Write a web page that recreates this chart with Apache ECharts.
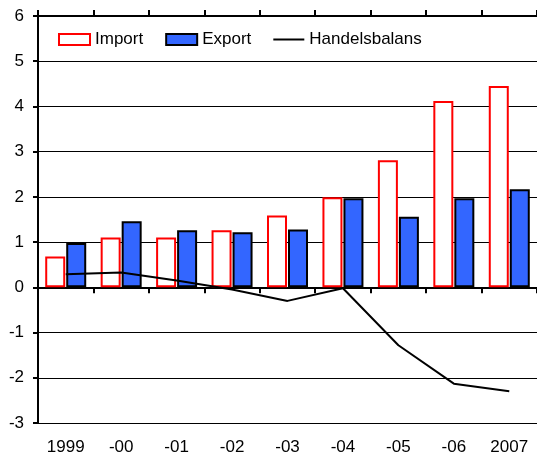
<!DOCTYPE html>
<html>
<head>
<meta charset="utf-8">
<script src="https://cdn.jsdelivr.net/npm/echarts@6/dist/echarts.min.js"></script>
<style>
  html, body { margin: 0; padding: 0; background: #fff; }
  #chart { width: 537px; height: 456px; }
</style>
</head>
<body>
<div id="chart"></div>
<script>
const years = ['1999', '-00', '-01', '-02', '-03', '-04', '-05', '-06', '2007']
const importData = [0.68, 1.1, 1.1, 1.26, 1.59, 1.99, 2.81, 4.12, 4.45]
const exportData = [0.98, 1.46, 1.26, 1.22, 1.28, 1.97, 1.56, 1.97, 2.17]
const balansData = [0.29, 0.33, 0.15, -0.05, -0.3, -0.02, -1.28, -2.13, -2.3]

const font = '"Liberation Sans", Arial, sans-serif'
const chart = echarts.init(document.getElementById('chart'))

chart.setOption({
  animation: false,
  textStyle: { fontFamily: font },
  grid: { left: 38, right: 0, top: 16, bottom: 33 },
  legend: {
    left: 53,
    top: 26,
    itemWidth: 31,
    itemHeight: 11,
    itemGap: 22,
    textStyle: { fontSize: 17, color: '#000', fontFamily: font },
    data: [
      { name: 'Import', icon: 'rect' },
      { name: 'Export', icon: 'rect' },
      { name: 'Handelsbalans', icon: 'path://M0,0 L31,0 L31,2 L0,2 Z' }
    ]
  },
  xAxis: [
    {
      type: 'category',
      data: years,
      position: 'bottom',
      axisLine: { show: false, onZero: false },
      axisTick: { show: false },
      axisLabel: { color: '#000', fontSize: 17, margin: 16, fontFamily: font }
    },
    {
      type: 'category',
      data: years,
      position: 'top',
      axisLine: { show: true, onZero: true, lineStyle: { color: '#000', width: 2 } },
      axisTick: { show: true, inside: true, length: 6, lineStyle: { color: '#000', width: 2 } },
      axisLabel: { show: false }
    },
    {
      type: 'category',
      data: years,
      position: 'top',
      axisLine: { show: true, onZero: true, lineStyle: { color: '#000', width: 2 } },
      axisTick: { show: true, inside: false, length: 6, lineStyle: { color: '#000', width: 2 } },
      axisLabel: { show: false }
    }
  ],
  yAxis: {
    type: 'value',
    min: -3,
    max: 6,
    interval: 1,
    axisLine: { show: true, lineStyle: { color: '#000', width: 2 } },
    axisTick: { show: true, length: 5, lineStyle: { color: '#000', width: 2 } },
    axisLabel: { color: '#000', fontSize: 17, margin: 14, fontFamily: font },
    splitLine: { show: true, lineStyle: { color: '#000', width: 1 } }
  },
  series: [
    {
      name: 'Import',
      type: 'bar',
      barWidth: 20,
      barGap: '5%',
      data: importData,
      itemStyle: { color: '#fff', borderColor: '#ff0000', borderWidth: 2 }
    },
    {
      name: 'Export',
      type: 'bar',
      barWidth: 20,
      barGap: '5%',
      data: exportData,
      itemStyle: { color: '#3366ff', borderColor: '#000', borderWidth: 2 }
    },
    {
      name: 'Handelsbalans',
      type: 'line',
      data: balansData,
      symbol: 'none',
      z: 5,
      lineStyle: { color: '#000', width: 2 },
      itemStyle: { color: '#000' }
    }
  ]
})
</script>
</body>
</html>
